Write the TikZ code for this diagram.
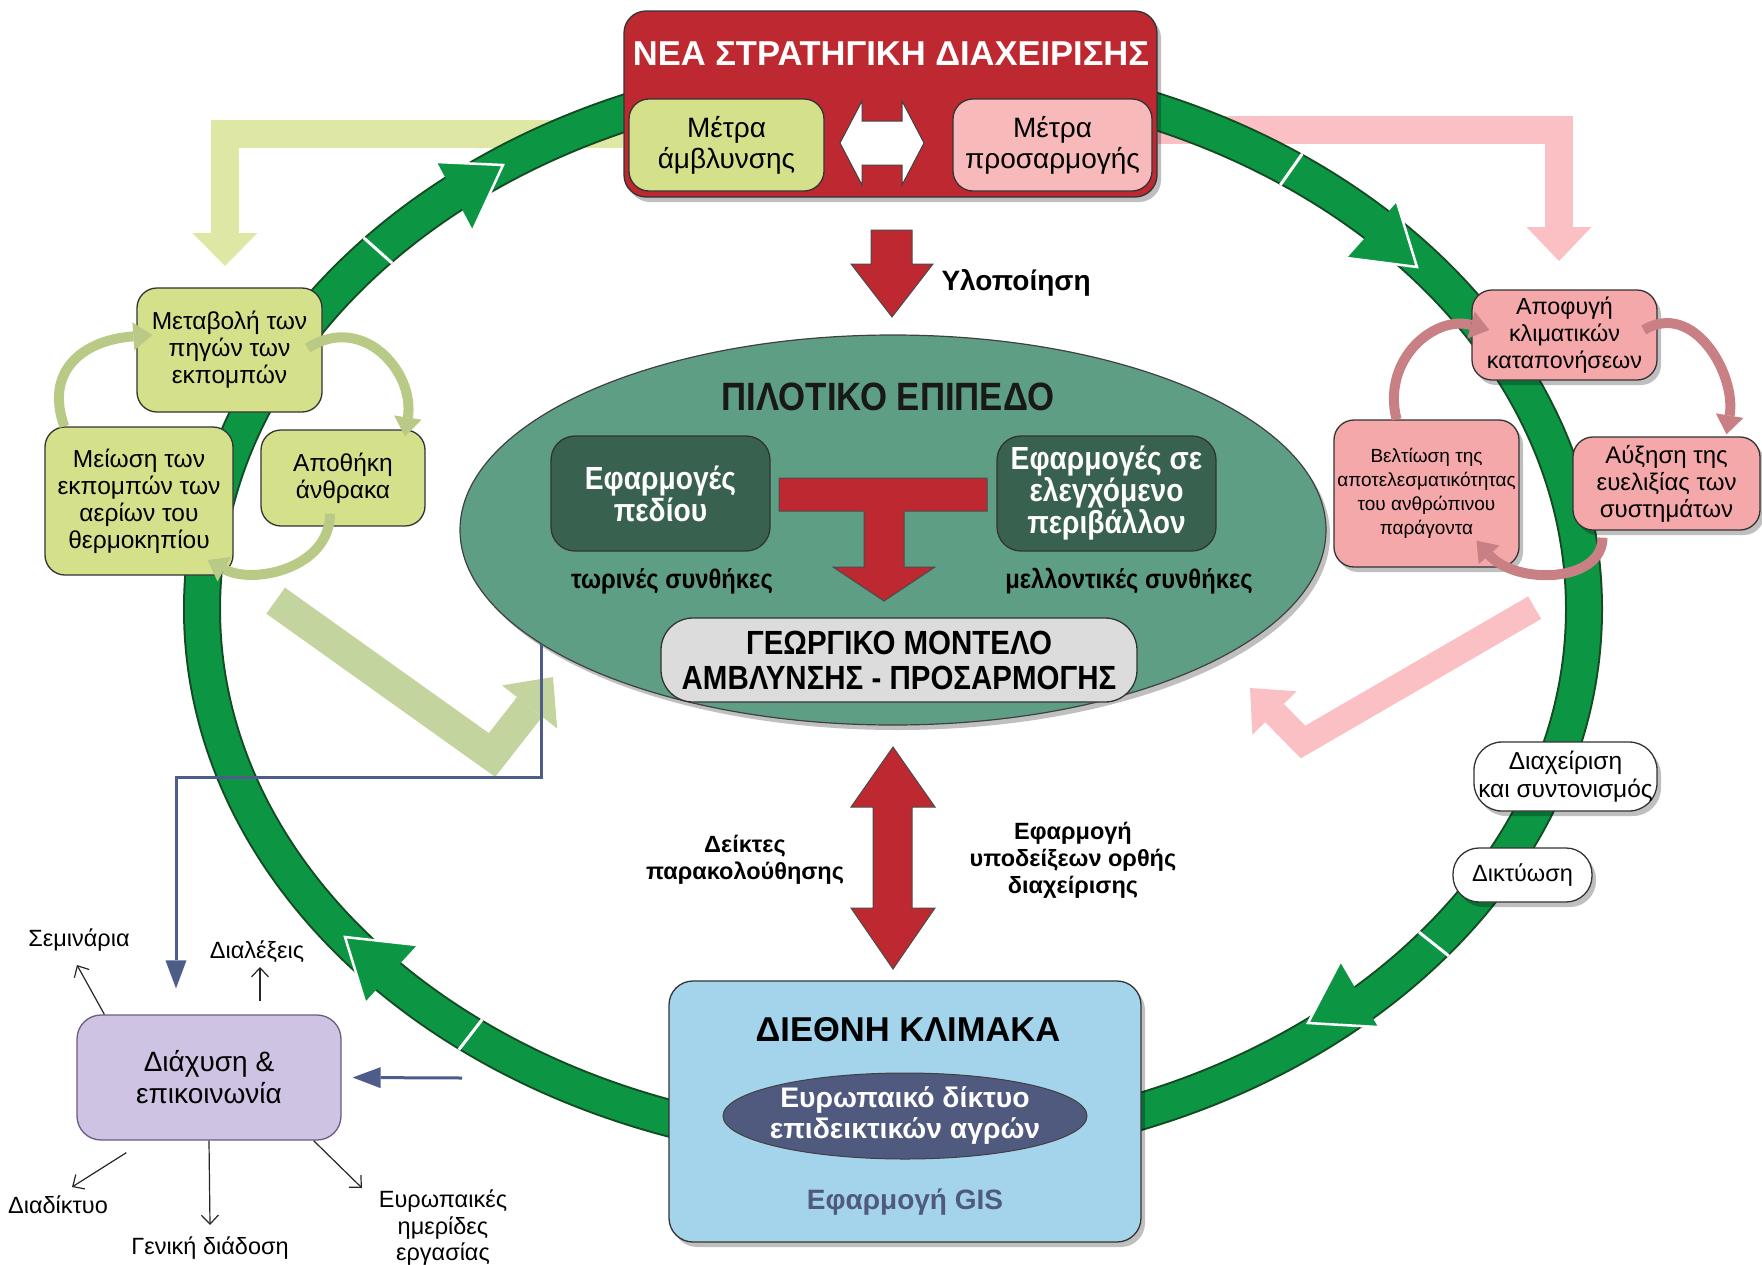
\documentclass[tikz,border=0pt]{standalone}
\usepackage{fontspec}
\setmainfont{Liberation Sans}
\newfontfamily\narrowfont[FakeStretch=0.88]{Liberation Sans}
\usetikzlibrary{arrows.meta,shadows,calc,shapes.geometric}
\pgfdeclarelayer{back}
\pgfsetlayers{back,main}

\definecolor{ringgreen}{RGB}{12,150,68}
\definecolor{ringdark}{RGB}{20,75,35}
\definecolor{stratred}{RGB}{190,40,48}
\definecolor{mitgreen}{RGB}{213,224,138}
\definecolor{adapink}{RGB}{247,185,185}
\definecolor{boxpink}{RGB}{244,168,170}
\definecolor{lgband}{RGB}{222,231,164}
\definecolor{pkband}{RGB}{250,192,196}
\definecolor{sageband}{RGB}{196,212,158}
\definecolor{pilotteal}{RGB}{94,158,132}
\definecolor{pilotdark}{RGB}{56,97,80}
\definecolor{modelgrey}{RGB}{220,220,220}
\definecolor{intlblue}{RGB}{163,212,236}
\definecolor{netnavy}{RGB}{80,90,126}
\definecolor{linenavy}{RGB}{78,92,138}
\definecolor{diffviolet}{RGB}{207,195,227}
\definecolor{diffedge}{RGB}{110,90,130}
\definecolor{gcurvecol}{RGB}{185,202,135}
\definecolor{pcurvecol}{RGB}{200,128,132}

\begin{document}
\begin{tikzpicture}[x=1pt,y=-1pt,
    plaintxt/.style 2 args={font={\fontsize{#1}{#2}\selectfont}},
    boldtxt/.style 2 args={font={\bfseries\fontsize{#1}{#2}\selectfont}},
    narrowtxt/.style 2 args={font={\narrowfont\bfseries\fontsize{#1}{#2}\selectfont}},
    roundbox/.style={draw=black!80, line width=1.3pt, rounded corners=20pt, align=center, inner sep=0pt},
    boxshadow/.style={drop shadow={shadow xshift=4pt,shadow yshift=-5pt,opacity=0.25,fill=black}},
    blockarrow/.style={fill=stratred, draw=black!70, line width=1pt, line join=miter},
    notch/.style={white, line width=3pt},
    band/.style={line width=#1, line join=miter},
    gcurve/.style={draw=gcurvecol, line width=10pt, -{Triangle[length=19pt,width=28pt,line width=0pt]}},
    pcurve/.style={draw=pcurvecol, line width=10pt, -{Triangle[length=19pt,width=28pt,line width=0pt]}},
    navyline/.style={draw=linenavy, line width=3pt, -{Triangle[length=28pt,width=21pt,line width=0pt]}},
    thinarrow/.style={draw=black!85, line width=1.2pt, -{Straight Barb[length=9pt,width=17pt]}}]
\useasboundingbox (0,0) rectangle (1762,1264);

\node[roundbox, boxshadow, fill=stratred, minimum width=533pt, minimum height=186pt, rounded corners=22pt] (strat) at (890.5,104) {};
\node[boldtxt={34.5}{40}, text=white] (strattitle) at (891,54) {ΝΕΑ ΣΤΡΑΤΗΓΙΚΗ ΔΙΑΧΕΙΡΙΣΗΣ};
\node[roundbox, fill=mitgreen, minimum width=195pt, minimum height=92pt, plaintxt={28}{31}] (mitig) at (726.5,145) {Μέτρα\\άμβλυνσης};
\node[roundbox, fill=adapink, minimum width=199pt, minimum height=92pt, plaintxt={28}{31}] (adapt) at (1052.5,145) {Μέτρα\\προσαρμογής};
\draw[fill=white, draw=black!75, line width=1pt] (840,143) -- ++(22,-42) -- ++(0,20) -- ++(40,0) -- ++(0,-20) -- ++(22,42) -- ++(-22,42) -- ++(0,-20) -- ++(-40,0) -- ++(0,20) -- cycle;

\draw[blockarrow] (871,230) -- (912,230) -- (912,264) -- (933,264) -- (892,317) -- (851,264) -- (871,264) -- cycle;
\node[boldtxt={28}{32}, anchor=west] (impl) at (938,283) {Υλοποίηση};

\node[ellipse, draw=black!75, line width=1.2pt, fill=pilotteal, minimum width=866pt, minimum height=390pt, inner sep=0pt, boxshadow] (pilot) at (893,530) {};
\node[narrowtxt={39.5}{44}, text=black!90] (pilottitle) at (888,397) {ΠΙΛΟΤΙΚΟ ΕΠΙΠΕΔΟ};
\node[roundbox, fill=pilotdark, text=white, narrowtxt={32}{32}, minimum width=219pt, minimum height=115pt, rounded corners=24pt] (field) at (660.5,493.5) {Εφαρμογές\\πεδίου};
\node[roundbox, fill=pilotdark, text=white, narrowtxt={32}{32}, minimum width=219pt, minimum height=115pt, rounded corners=24pt] (ctrl) at (1106.5,493.5) {Εφαρμογές σε\\ελεγχόμενο\\περιβάλλον};
\draw[blockarrow] (779,478) -- (987,478) -- (987,511) -- (904,511) -- (904,567) -- (935,567) -- (884,601) -- (833,567) -- (864,567) -- (864,511) -- (779,511) -- cycle;
\node[narrowtxt={27}{30}] (now) at (672,581) {τωρινές συνθήκες};
\node[narrowtxt={27}{30}] (future) at (1129,581) {μελλοντικές συνθήκες};
\node[roundbox, fill=modelgrey, narrowtxt={33.5}{35}, minimum width=476pt, minimum height=84pt, rounded corners=32pt] (model) at (899,660) {ΓΕΩΡΓΙΚΟ ΜΟΝΤΕΛΟ\\ΑΜΒΛΥΝΣΗΣ - ΠΡΟΣΑΡΜΟΓΗΣ};

\draw[blockarrow] (893,747) -- (935,807) -- (912,807) -- (912,908) -- (935,908) -- (893,969) -- (851,908) -- (873,908) -- (873,807) -- (851,807) -- cycle;
\node[boldtxt={23.5}{27}, align=center] (monit) at (745,860) {Δείκτες\\παρακολούθησης};
\node[boldtxt={23.5}{27}, align=center] (advice) at (1073,860) {Εφαρμογή\\υποδείξεων ορθής\\διαχείρισης};

\node[roundbox, boxshadow, fill=intlblue, minimum width=472pt, minimum height=261pt, rounded corners=24pt] (intl) at (905,1111.5) {};
\node[boldtxt={34.5}{40}] (intltitle) at (908,1030) {ΔΙΕΘΝΗ ΚΛΙΜΑΚΑ};
\node[ellipse, draw=black!75, line width=1pt, fill=netnavy, text=white, boldtxt={28.3}{31}, align=center, inner xsep=-7pt, inner ysep=0pt, minimum width=364pt, minimum height=86pt] (farms) at (905,1116) {Ευρωπαικό δίκτυο\\επιδεικτικών αγρών};
\node[boldtxt={28}{32}, text=netnavy] (gis) at (905,1202) {Εφαρμογή GIS};

\node[roundbox, fill=mitgreen, plaintxt={24.5}{27}, minimum width=185pt, minimum height=124pt] (source) at (229.5,350) {Μεταβολή των\\πηγών των\\εκπομπών};
\node[roundbox, fill=mitgreen, plaintxt={24.5}{27}, minimum width=188pt, minimum height=148pt] (cut) at (139,501) {Μείωση των\\εκπομπών των\\αερίων του\\θερμοκηπίου};
\node[roundbox, fill=mitgreen, plaintxt={24.5}{27}, minimum width=164pt, minimum height=96pt] (sink) at (343,478) {Αποθήκη\\άνθρακα};
\draw[gcurve] (cut.135) .. controls +(-20,-55) and +(-70,5) .. ($(source.west)+(16,-15)$);
\draw[gcurve] ($(source.east)+(-15,-2)$) .. controls +(55,-35) and +(10,-65) .. ($(sink.north)+(62,7)$);
\draw[gcurve] ($(sink.south)+(-13,-13)$) .. controls +(0,55) and +(45,25) .. ($(cut.east)+(-26,59)$);

\node[roundbox, boxshadow, fill=boxpink, plaintxt={23.3}{27}, minimum width=185pt, minimum height=90pt] (avoid) at (1564.5,335) {Αποφυγή\\κλιματικών\\καταπονήσεων};
\node[roundbox, boxshadow, fill=boxpink, plaintxt={19}{24}, minimum width=185pt, minimum height=147pt] (human) at (1426.5,493.5) {Βελτίωση της\\αποτελεσματικότητας\\του ανθρώπινου\\παράγοντα};
\node[roundbox, boxshadow, fill=boxpink, plaintxt={24}{27}, minimum width=187pt, minimum height=93pt] (flex) at (1666.5,483.5) {Αύξηση της\\ευελιξίας των\\συστημάτων};
\draw[pcurve] ($(human.north)+(-30,0)$) .. controls +(-15,-60) and +(-55,-15) .. ($(avoid.west)+(18,-5)$);
\draw[pcurve] ($(avoid.east)+(-14,-5)$) .. controls +(50,-30) and +(10,-60) .. ($(flex.north)+(60,-2)$);
\draw[pcurve] ($(flex.south)+(-64,7)$) .. controls +(0,45) and +(40,45) .. ($(human.south)+(50,-27)$);

\node[roundbox, boxshadow, fill=white, rounded corners=28pt, plaintxt={24.5}{28}, minimum width=183pt, minimum height=69pt] (coord) at (1565.5,776.5) {Διαχείριση\\και συντονισμός};
\node[roundbox, boxshadow, fill=white, rounded corners=26pt, plaintxt={23.5}{28}, minimum width=139pt, minimum height=54pt] (network) at (1522.5,875) {Δικτύωση};

\coordinate (gvlow) at (492,755);
\coordinate (gvtip) at (553,677);
\draw[band=32pt, sageband, -{Triangle[length=38pt,width=70pt,line width=0pt]}] ($(cut.south east)+(42,25)$) -- (gvlow) -- (gvtip);
\coordinate (pvlow) at (1303,742);
\coordinate (pvtip) at (1250,688);
\draw[band=26pt, pkband, -{Triangle[length=35pt,width=62pt,line width=0pt]}] ($(human.south east)+(15,40)$) -- (pvlow) -- (pvtip);

\node[roundbox, fill=diffviolet, draw=diffedge, plaintxt={28}{32}, minimum width=264pt, minimum height=125pt, rounded corners=24pt] (diff) at (209,1077.5) {Διάχυση \&\\επικοινωνία};
\node[plaintxt={23.5}{26.5}] (sem) at (79,940) {Σεμινάρια};
\node[plaintxt={23.5}{26.5}] (lect) at (257,952) {Διαλέξεις};
\node[plaintxt={23.5}{26.5}] (web) at (58,1205) {Διαδίκτυο};
\node[plaintxt={23.5}{26.5}] (gen) at (210,1248) {Γενική διάδοση};
\node[plaintxt={23.5}{26.5}, align=center] (euro) at (443,1228) {Ευρωπαικές\\ημερίδες\\εργασίας};
\draw[thinarrow] ($(diff.north west)+(28,0)$) -- ($(sem)+(-2,25)$);
\draw[thinarrow] ($(diff.north)+(51,-13)$) -- ($(lect)+(3,15)$);
\draw[thinarrow] ($(diff.south west)+(50,12)$) -- ($(web)+(14,-18)$);
\draw[thinarrow] (diff.south) -- ($(gen)+(0,-23)$);
\draw[thinarrow] ($(diff.south east)+(-28,0)$) -- ($(euro)+(-81,-40)$);

\coordinate (diffin) at ($(diff.north)+(-33,-26)$);
\draw[navyline] (pilot.198) -- ++(0,133) -| (diffin);
\coordinate (navysrc) at (462,1078);
\draw[navyline] (navysrc) -- ($(diff.east)+(11,0)$);

\begin{pgfonlayer}{back}
  \coordinate (mittip) at (225,266);
  \coordinate (adatip) at (1559,261);
  \draw[band=28pt, lgband, -{Triangle[length=33pt,width=65pt,line width=0pt]}] ($(strat.west)+(0,30)$) -| (mittip);
  \draw[band=28pt, pkband, -{Triangle[length=34pt,width=65pt,line width=0pt]}] ($(strat.east)+(0,26)$) -| (adatip);
  \coordinate (ringc) at (893,609);
  \draw[ringdark, line width=38pt] (ringc) ellipse [x radius=691, y radius=538];
  \draw[ringgreen, line width=34pt] (ringc) ellipse [x radius=691, y radius=538];
  \foreach \t in {221.8,305.2,38.5,127.7}
    \draw[notch] ($(ringc)+(\t:672 and 519)$) -- ($(ringc)+(\t:710 and 557)$);
  \foreach \ba/\tp/\bb in {{437,162}/{503,165}/{473,230}, {1397,202}/{1417,267}/{1347,258}, {1340,962}/{1308,1023}/{1378,1027}, {417,945}/{345,937}/{365,1002}} {
    \fill[ringgreen] (\ba) -- (\tp) -- (\bb) -- cycle;
    \draw[white, line width=2.5pt, line join=miter] (\ba) -- (\tp) -- (\bb);
  }
\end{pgfonlayer}
\end{tikzpicture}
\end{document}
